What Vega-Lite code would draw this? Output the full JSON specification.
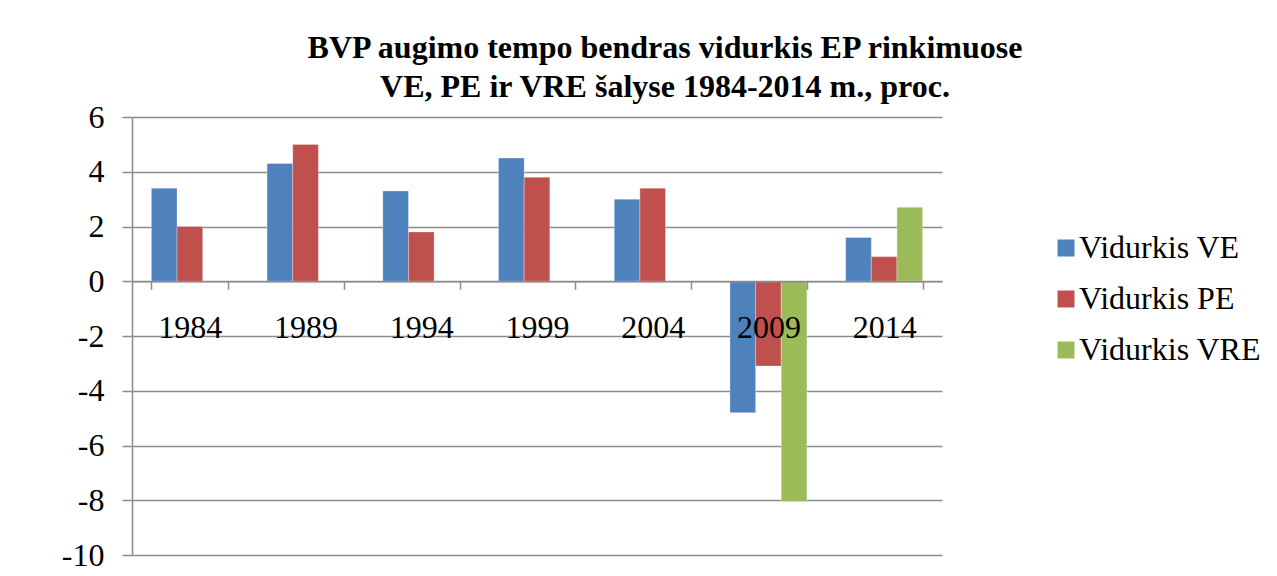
{
  "$schema": "https://vega.github.io/schema/vega-lite/v6.json",
  "width": 810,
  "height": 438,
  "autosize": {"type": "none"},
  "padding": {"left": 132, "top": 117, "right": 335, "bottom": 21},
  "background": "white",
  "title": {
    "text": ["BVP augimo tempo bendras vidurkis EP rinkimuose", "VE, PE ir VRE šalyse 1984-2014 m., proc."],
    "font": "Liberation Serif",
    "fontSize": 32,
    "fontWeight": "bold",
    "color": "black",
    "anchor": "middle",
    "dx": 128,
    "offset": -3,
    "lineHeight": 39
  },
  "data": {
    "values": [
      {"year": "1984", "series": "Vidurkis VE", "value": 3.4},
      {"year": "1984", "series": "Vidurkis PE", "value": 2.0},
      {"year": "1989", "series": "Vidurkis VE", "value": 4.3},
      {"year": "1989", "series": "Vidurkis PE", "value": 5.0},
      {"year": "1994", "series": "Vidurkis VE", "value": 3.3},
      {"year": "1994", "series": "Vidurkis PE", "value": 1.8},
      {"year": "1999", "series": "Vidurkis VE", "value": 4.5},
      {"year": "1999", "series": "Vidurkis PE", "value": 3.8},
      {"year": "2004", "series": "Vidurkis VE", "value": 3.0},
      {"year": "2004", "series": "Vidurkis PE", "value": 3.4},
      {"year": "2009", "series": "Vidurkis VE", "value": -4.8},
      {"year": "2009", "series": "Vidurkis PE", "value": -3.1},
      {"year": "2009", "series": "Vidurkis VRE", "value": -8.05},
      {"year": "2014", "series": "Vidurkis VE", "value": 1.6},
      {"year": "2014", "series": "Vidurkis PE", "value": 0.9},
      {"year": "2014", "series": "Vidurkis VRE", "value": 2.7}
    ]
  },
  "mark": {"type": "bar", "stroke": "white", "strokeWidth": 0.5, "strokeOpacity": 0.6},
  "encoding": {
    "x": {
      "field": "year",
      "type": "nominal",
      "sort": null,
      "scale": {"paddingInner": 0.335, "paddingOuter": 0.1675},
      "axis": {
        "title": null,
        "orient": "bottom",
        "offset": -273.75,
        "zindex": 1,
        "labelAngle": 0,
        "labelFont": "Liberation Serif",
        "labelFontSize": 32,
        "labelColor": "black",
        "labelPadding": 23,
        "domainColor": "#8c8c8c",
        "domainWidth": 1.5,
        "tickColor": "#8c8c8c",
        "tickWidth": 1.5,
        "tickSize": 8,
        "tickBand": "extent",
        "grid": false
      }
    },
    "xOffset": {
      "field": "series",
      "type": "nominal",
      "scale": {"domain": ["Vidurkis VE", "Vidurkis PE", "Vidurkis VRE"], "paddingInner": 0, "paddingOuter": 0}
    },
    "y": {
      "field": "value",
      "type": "quantitative",
      "scale": {"domain": [-10, 6], "nice": false, "zero": false},
      "axis": {
        "title": null,
        "values": [-10, -8, -6, -4, -2, 0, 2, 4, 6],
        "labelExpr": "'' + datum.value",
        "labelFont": "Liberation Serif",
        "labelFontSize": 32,
        "labelColor": "black",
        "labelPadding": 18,
        "tickSize": 10,
        "tickColor": "#8c8c8c",
        "tickWidth": 1.5,
        "domainColor": "#8c8c8c",
        "domainWidth": 1.5,
        "grid": true,
        "gridColor": "#8c8c8c",
        "gridWidth": 1.5
      }
    },
    "color": {
      "field": "series",
      "type": "nominal",
      "scale": {"domain": ["Vidurkis VE", "Vidurkis PE", "Vidurkis VRE"], "range": ["#4F81BD", "#C0504D", "#9BBB59"]},
      "legend": {
        "title": null,
        "orient": "none",
        "legendX": 918,
        "legendY": 115,
        "padding": 0,
        "symbolType": "square",
        "symbolSize": 289,
        "symbolStrokeWidth": 0,
        "labelFont": "Liberation Serif",
        "labelFontSize": 32,
        "labelColor": "black",
        "labelOffset": -3,
        "labelLimit": 400,
        "rowPadding": 19
      }
    }
  },
  "config": {"view": {"stroke": null}}
}
